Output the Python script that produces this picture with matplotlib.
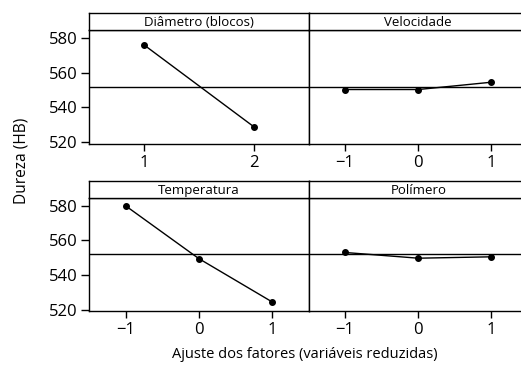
import matplotlib.pyplot as plt

plt.rcParams['font.family'] = ['Open Sans', 'DejaVu Sans']

# main effects (Dureza, HB)
diam_x = [1, 2]
diam_y = [576, 529]
vel_x = [-1, 0, 1]
vel_y = [550.3, 550.3, 554.5]
temp_x = [-1, 0, 1]
temp_y = [580, 549.5, 524.5]
pol_x = [-1, 0, 1]
pol_y = [553, 549.7, 550.5]
mean_y = 552

titles = ['Diâmetro (blocos)', 'Velocidade', 'Temperatura', 'Polímero']
xs = [diam_x, vel_x, temp_x, pol_x]
ys = [diam_y, vel_y, temp_y, pol_y]

W, H = 521, 366
fig = plt.figure(figsize=(W / 100, H / 100), dpi=100)


def box(x0, y0, x1, y1):
    # pixel box (top-left origin) -> figure fraction
    return [x0 / W, 1 - y1 / H, (x1 - x0) / W, (y1 - y0) / H]


cols = [(89, 308.5), (308.5, 528)]
rows = [(13.3, 30, 144), (181, 198, 311.3)]

for i in range(4):
    r, c = divmod(i, 2)
    x0, x1 = cols[c]
    top, strip, bot = rows[r]
    ax = fig.add_axes(box(x0, strip, x1, bot))
    ax.plot(xs[i], ys[i], color='black', lw=1, marker='o', ms=4)
    ax.axhline(mean_y, color='black', lw=1)
    ax.set_ylim(519, 584.5)
    if i == 0:
        ax.set_xlim(0.5, 2.5)
        ax.set_xticks([1, 2])
    else:
        ax.set_xlim(-1.5, 1.5)
        ax.set_xticks([-1, 0, 1])
    ax.tick_params(axis='x', length=5, width=1, labelsize=12, pad=3)
    if c == 0:
        ax.set_yticks([520, 540, 560, 580])
        ax.tick_params(axis='y', length=5.5, width=1, labelsize=12, pad=2.5)
    else:
        ax.set_yticks([])
    for s in ax.spines.values():
        s.set_linewidth(1)

    sa = fig.add_axes(box(x0, top, x1, strip))
    sa.set_xticks([])
    sa.set_yticks([])
    for s in sa.spines.values():
        s.set_linewidth(1)
    sa.text(0.5, 0.45, titles[i], ha='center', va='center', fontsize=9.5,
            transform=sa.transAxes)

fig.text(22 / W, 1 - 161 / H, 'Dureza (HB)', rotation=90, ha='center',
         va='center', fontsize=11.2)
fig.text(305 / W, 1 - 355 / H, 'Ajuste dos fatores (variáveis reduzidas)',
         ha='center', va='center', fontsize=10.5)

fig.savefig('out.png', dpi=100)
